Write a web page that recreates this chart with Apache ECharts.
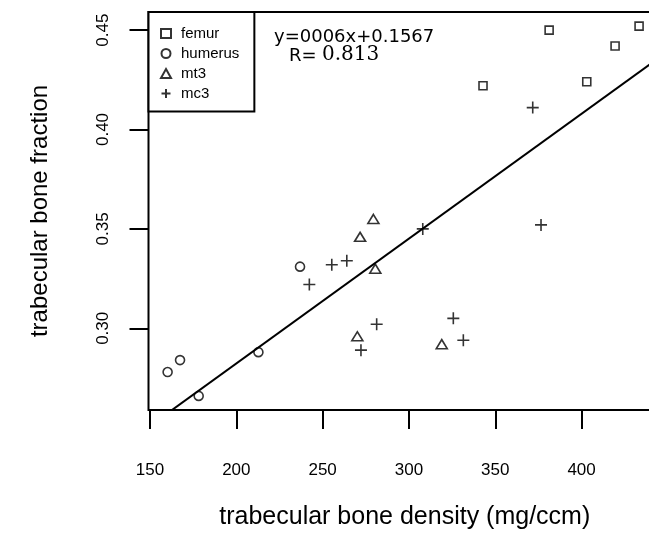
<!DOCTYPE html>
<html>
<head>
<meta charset="utf-8">
<script src="https://cdn.jsdelivr.net/npm/echarts@6/dist/echarts.min.js"></script>
<style>html,body{margin:0;padding:0;background:#fff}#c{width:649px;height:556px}</style>
</head>
<body>
<div id="c"></div>
<script>
// ---- data ----
const femur   = [[342.9,0.422],[381.2,0.450],[403.0,0.424],[419.4,0.442],[433.3,0.452]];
const humerus = [[160.2,0.278],[167.4,0.284],[178.2,0.266],[212.8,0.288],[236.9,0.331]];
const mt3     = [[270.1,0.296],[271.7,0.346],[279.4,0.355],[280.5,0.330],[319.0,0.292]];
const mc3     = [[242.3,0.322],[255.3,0.332],[264.0,0.334],[272.2,0.289],[281.3,0.302],
                 [308.0,0.350],[325.7,0.305],[331.5,0.294],[371.7,0.411],[376.5,0.352]];
const xTicks = [150,200,250,300,350,400];
const yTicks = [0.30,0.35,0.40,0.45];
const fitSlope = 0.000628, fitIntercept = 0.1567;
const eqText = 'y=0006x+0.1567';
const rLabel = 'R= ', rValue = '0.813';

const xMin = 149.13, xMax = 446, yMin = 0.2589, yMax = 0.4591;
const fitLine = [[xMin, fitIntercept + fitSlope*xMin],[xMax, fitIntercept + fitSlope*xMax]];

const FONT = 'Liberation Sans';
const plus = 'path://M0,5L10,5M5,0L5,10';
const hollow = {color:'none', borderColor:'#000', borderWidth:1.6};

const chart = echarts.init(document.getElementById('c'), null, {renderer:'canvas'});
chart.setOption({
  animation:false,
  backgroundColor:'#fff',
  grid:{left:148.5, top:12, width:512.5, height:398, show:true, borderColor:'#000', borderWidth:2,
        backgroundColor:'transparent', containLabel:false, outerBoundsMode:'none'},
  xAxis:{type:'value', min:xMin, max:xMax,
    name:'trabecular bone density (mg/ccm)', nameLocation:'middle', nameGap:95,
    nameTextStyle:{fontFamily:FONT, fontSize:25, color:'#000'},
    axisLine:{show:false}, splitLine:{show:false},
    axisTick:{show:true, length:19, lineStyle:{color:'#000', width:2}, customValues:xTicks},
    axisLabel:{margin:52, fontFamily:FONT, fontSize:17, color:'#000', customValues:xTicks, formatter:v=>String(v)}
  },
  yAxis:{type:'value', min:yMin, max:yMax,
    name:'trabecular bone fraction', nameLocation:'middle', nameGap:96, nameRotate:90,
    nameTextStyle:{fontFamily:FONT, fontSize:24, color:'#000'},
    axisLine:{show:false}, splitLine:{show:false},
    axisTick:{show:true, length:19, lineStyle:{color:'#000', width:2}, customValues:yTicks},
    axisLabel:{margin:37, rotate:90, fontFamily:FONT, fontSize:17, color:'#000', customValues:yTicks, formatter:v=>v.toFixed(2)}
  },
  legend:{orient:'vertical', left:148.5, top:12, data:['femur','humerus','mt3','mc3'],
    backgroundColor:'#fff', borderColor:'#000', borderWidth:2,
    padding:[14,15,10.5,10], itemGap:5, itemWidth:10, itemHeight:9,
    textStyle:{fontFamily:FONT, fontSize:15, color:'#000', padding:[0,0,0,5]}, selectedMode:false},
  series:[
    {name:'fit', type:'line', data:fitLine, symbol:'none', clip:true, lineStyle:{color:'#000', width:2}, silent:true, z:1},
    {name:'femur', type:'scatter', data:femur, symbol:'rect', symbolSize:8, itemStyle:hollow},
    {name:'humerus', type:'scatter', data:humerus, symbol:'circle', symbolSize:9, itemStyle:hollow},
    {name:'mt3', type:'scatter', data:mt3, symbol:'triangle', symbolSize:[11,9], itemStyle:hollow},
    {name:'mc3', type:'scatter', data:mc3, symbol:plus, symbolSize:12, itemStyle:hollow}
  ],
  graphic:[
    {type:'text', left:274, top:28, style:{text:eqText, font:'18px "DejaVu Sans"', fill:'#000'}},
    {type:'text', left:289, top:47, style:{text:rLabel, font:'18px "DejaVu Sans"', fill:'#000'}},
    {type:'text', left:322, top:45, style:{text:rValue, font:'20px "DejaVu Serif"', fill:'#000'}}
  ]
});
</script>
</body>
</html>
